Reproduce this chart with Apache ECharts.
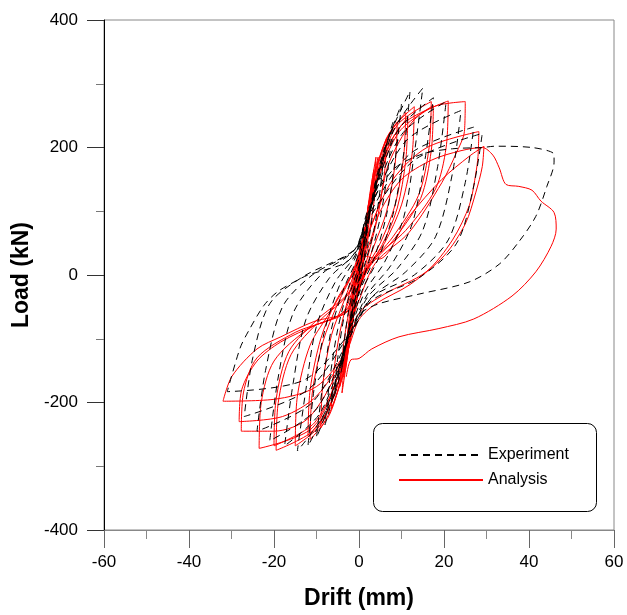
<!DOCTYPE html>
<html>
<head>
<meta charset="utf-8">
<script src="https://cdn.jsdelivr.net/npm/echarts@6/dist/echarts.min.js"></script>
<style>html,body{margin:0;padding:0;background:#fff;}#chart{width:627px;height:615px;}</style>
</head>
<body>
<div id="chart"></div>
<script>
// Axis ranges / tick steps
const xRange = [-60, 60];
const yRange = [-400, 400];
const xStep = 20;
const yStep = 200;
const xTitle = 'Drift (mm)';
const yTitle = 'Load (kN)';
const seriesNames = ['Experiment', 'Analysis'];

// Experiment (drift mm, load kN)
const experiment = [
  [0,0],[1,40],[2,75],[1.5,40],[0.5,5],[-0.5,-25],[-2,-70],[-1.5,-35],[-0.5,-5],[0.5,25],
  [1.5,55],[3,115],[4,150],[3.2,95],[2,45],[0.5,5],[-1,-30],[-2.5,-90],[-4,-145],[-3.2,-90],[-2,-40],[-0.5,-5],[0.5,25],
  [2,80],[4,150],[6,200],[5,135],[3.5,70],[1.5,20],[-0.5,-25],[-2,-70],[-4,-145],[-6,-195],[-5,-130],[-3.5,-65],[-1.5,-15],[0.5,25],
  [2,80],[5,170],[8,240],[6.8,165],[5,90],[2.5,25],[0,-25],[-2,-75],[-5,-165],[-8,-235],[-6.8,-160],[-5,-85],[-2.5,-20],[0,25],
  [2,80],[6,195],[10,268],[8.5,180],[6.5,95],[3.5,25],[0.5,-20],[-2,-75],[-6,-185],[-10,-255],[-8.5,-170],[-6.5,-85],[-3.5,-20],[-0.5,25],
  [2,85],[7,215],[12,288],[10.5,190],[8,95],[4.5,25],[1,-20],[-2,-80],[-7,-200],[-12,-268],[-10.5,-175],[-8,-85],[-4.5,-15],[-1,25],
  [2,85],[8,225],[15,293],[13,190],[10.5,90],[6,20],[1.5,-25],[-2,-85],[-8,-215],[-14.5,-276],[-12.5,-180],[-10,-80],[-5.5,-10],[-1,30],
  [2,90],[9,225],[17.5,278],[15.5,180],[12.5,80],[7.5,15],[2,-30],[-2,-90],[-9,-215],[-17.5,-268],[-15.5,-170],[-12.5,-70],[-7,-5],[-1,35],
  [2,95],[10,220],[20.5,272],[18.5,170],[15,70],[9,10],[2,-35],[-2,-95],[-10,-210],[-21,-260],[-19,-160],[-15.5,-60],[-9,0],[-1,40],
  [2,95],[11,210],[24,258],[22,160],[18,60],[11,5],[3,-35],[-2,-95],[-11,-200],[-24,-245],[-22,-150],[-18,-50],[-11,0],[-1,40],
  [2,90],[12,190],[27,232],[25,145],[21,55],[13,0],[3,-35],[-2,-90],[-12,-180],[-27,-222],[-25,-130],[-21,-45],[-13,-2],[-1,40],
  [2,85],[13,180],[29,222],[27,140],[23,50],[14,-5],[3,-40],[-2,-90],[-13,-165],[-31,-183],[-28,-115],[-26,-88],[-22.4,-48],[-19.3,-27],[-15.3,-11],[-12,0],[-9,6],[-3,20],[0,45],
  [2,100],[8,165],[15,190],[22,198],[29,200],[32,202],[40.7,200],[45.9,189],[45.9,177],[44.2,139],[41.6,92],[37.6,52],[33,17],[25.9,-11],[14.1,-30],[4.7,-45],[0,-61],[-1,-75]
];

// Analysis (drift mm, load kN)
const analysis = [
  [0,0],[0.8,40],[1.5,75],[2.2,110],[1.6,80],[0.8,40],[0,0],[-0.8,-40],[-1.8,-90],[-2.4,-115],[-1.8,-80],[-0.8,-35],[0.2,10],
  [1.2,60],[2.5,125],[3.5,165],[3,130],[2,85],[0.8,30],[-0.5,-25],[-1.8,-85],[-3,-140],[-3.6,-160],[-3,-120],[-2,-70],[-0.8,-20],[0.3,20],
  [1,45],[2,95],[3,130],[2.6,95],[1.8,55],[0.8,15],[-0.5,-35],[-1.8,-85],[-3,-120],[-2.6,-85],[-1.8,-45],[-0.8,-10],[0.5,30],
  [1.5,70],[3,145],[4,185],[3.4,140],[2.2,85],[1,30],[-0.3,-25],[-1.8,-85],[-3.2,-150],[-4,-185],[-3.4,-135],[-2.3,-80],[-1,-25],[0.3,25],
  [1.5,75],[3,140],[4.5,185],[4,140],[3,90],[1.5,35],[0,-20],[-1.5,-70],[-3,-135],[-4.5,-175],[-4,-130],[-3,-80],[-1.5,-30],[0,20],
  [1.5,75],[3.5,155],[6.5,215],[6,160],[4.5,95],[2.5,40],[0.5,-10],[-1.5,-70],[-3.5,-150],[-6.5,-210],[-6,-155],[-4.5,-90],[-2.5,-35],[-0.5,15],
  [1.5,75],[4,165],[6.5,215],[9,240],[8.5,175],[6.5,100],[3.5,45],[0.5,-10],[-1.5,-70],[-4,-160],[-6.5,-210],[-9,-240],[-8.5,-170],[-6.5,-95],[-3.5,-40],[-0.5,15],
  [1.5,75],[4,160],[7,220],[11,255],[10.5,185],[8.5,110],[5,50],[1,0],[-1.5,-65],[-4,-155],[-7,-220],[-11.5,-258],[-11,-185],[-8.5,-105],[-5,-45],[-1,10],
  [1.5,70],[4,150],[7.5,210],[11.5,248],[11,180],[9,105],[5.5,48],[1,-2],[-1.5,-62],[-4,-150],[-7.5,-215],[-12,-252],[-11.5,-180],[-9,-100],[-5.5,-42],[-1,10],
  [1.5,75],[4.5,165],[8,230],[13,264],[12.5,190],[10,110],[6,50],[1.5,5],[-1.5,-65],[-4.5,-160],[-9,-235],[-15,-268],[-14.5,-190],[-11.5,-110],[-6.5,-55],[-1.5,5],
  [1.5,75],[4.5,160],[9,235],[17,272],[16.5,200],[14,125],[8,60],[2,10],[-1.5,-60],[-4.5,-160],[-10,-240],[-19.5,-275],[-19,-200],[-16,-125],[-9,-70],[-2.5,-30],[0,20],
  [1.5,70],[4.5,150],[9.5,225],[17.5,266],[17,195],[14.5,120],[8.5,58],[2,8],[-1.5,-58],[-4.5,-150],[-10.5,-232],[-20,-268],[-19.5,-195],[-16.5,-120],[-9.5,-68],[-2.5,-28],[0,18],
  [1.5,75],[4.5,155],[10,235],[21,273],[20.5,200],[18,135],[11,70],[3,20],[-1.5,-55],[-4.5,-150],[-11,-240],[-23.5,-272],[-23,-200],[-20,-135],[-12,-85],[-3,-55],[0,10],
  [2,60],[4.7,110],[7,175],[12.5,240],[18,265],[25,272],[24.8,225],[22.8,190],[19.5,145],[11.8,67],[4,20],[0,-40],[-2,-80],[-5,-150],[-12,-225],[-20,-245],[-27.7,-245],[-27.2,-185],[-24,-130],[-15,-90],[-4,-60],[-1,-10],[1,40],
  [3,80],[8,150],[16,200],[28.2,225],[28,186],[27.5,160],[26,110],[22,55],[15.8,5],[6,-30],[0,-60],[-3,-120],[-10,-190],[-18,-222],[-28.2,-230],[-27.6,-180],[-24,-135],[-18.4,-105],[-10,-78],[-3,-58],[-1,-10],[1,30],
  [4.7,25],[11.8,92],[19.5,150],[25.9,186],[29.4,202],[29,170],[27.5,130],[25,80],[20,30],[12,-15],[4,-45],[0,-70],[-3,-120],[-10,-175],[-20,-195],[-32,-198],[-29.9,-159],[-24,-116],[-18.4,-97],[-10.6,-73],[-2.8,-58],[-1,-20],[1,20],[3,60],
  [5,100],[10,150],[17,180],[24,195],[29,200],[31.5,188],[33,168],[34.6,142],[37.6,139],[40.7,133],[42.8,116],[45.9,98],[46.4,72],[45.2,45],[41.6,5],[36,-33],[27,-69],[18.8,-84],[9.4,-97],[3,-116],[0,-131],[-1.9,-133],[-3,-160]
];

const chart = echarts.init(document.getElementById('chart'), null, {renderer: 'canvas'});
const font = "'Liberation Sans', Arial, sans-serif";
chart.setOption({
  animation: false,
  backgroundColor: '#fff',
  grid: {left: 104, right: 13, top: 20, bottom: 83, show: true, borderColor: '#888', borderWidth: 1},
  xAxis: {
    type: 'value', min: xRange[0], max: xRange[1], interval: xStep,
    name: xTitle, nameLocation: 'middle', nameGap: 57,
    nameTextStyle: {fontFamily: font, fontSize: 23, fontWeight: 'bold', color: '#000'},
    axisLine: {onZero: false, lineStyle: {color: '#888', width: 1}},
    axisTick: {show: true, length: 18, lineStyle: {color: '#666'}},
    minorTick: {show: true, splitNumber: 2, length: 9, lineStyle: {color: '#888'}},
    splitLine: {show: false},
    axisLabel: {fontFamily: font, fontSize: 17, color: '#000', margin: 24}
  },
  yAxis: {
    type: 'value', min: yRange[0], max: yRange[1], interval: yStep,
    name: yTitle, nameLocation: 'middle', nameGap: 70, nameRotate: 90,
    nameTextStyle: {fontFamily: font, fontSize: 23, fontWeight: 'bold', color: '#000'},
    axisLine: {show: true, onZero: false, lineStyle: {color: '#000', width: 1}},
    axisTick: {show: true, length: 17, lineStyle: {color: '#333'}},
    minorTick: {show: true, splitNumber: 2, length: 8, lineStyle: {color: '#777'}},
    splitLine: {show: false},
    axisLabel: {fontFamily: font, fontSize: 17, color: '#000', margin: 26}
  },
  legend: {
    orient: 'vertical', left: 393, top: 442, itemWidth: 84, itemHeight: 14, itemGap: 9,
    data: [seriesNames[0], seriesNames[1]],
    itemStyle: {opacity: 0},
    textStyle: {fontFamily: font, fontSize: 16, color: '#000'},
    z: 20
  },
  graphic: [{
    type: 'rect', z: 15,
    shape: {x: 373.5, y: 423.5, width: 223, height: 88, r: 9},
    style: {fill: '#fff', stroke: '#000', lineWidth: 1}
  }],
  series: [
    {
      name: seriesNames[1], type: 'line', data: analysis, symbol: 'none', smooth: 0.3,
      lineStyle: {color: '#ff0000', width: 1}, itemStyle: {color: '#ff0000'}, z: 2
    },
    {
      name: seriesNames[0], type: 'line', data: experiment, symbol: 'none', smooth: 0.3,
      lineStyle: {color: '#000', width: 1, type: [7, 5]}, itemStyle: {color: '#000'}, z: 3
    }
  ]
});
</script>
</body>
</html>
